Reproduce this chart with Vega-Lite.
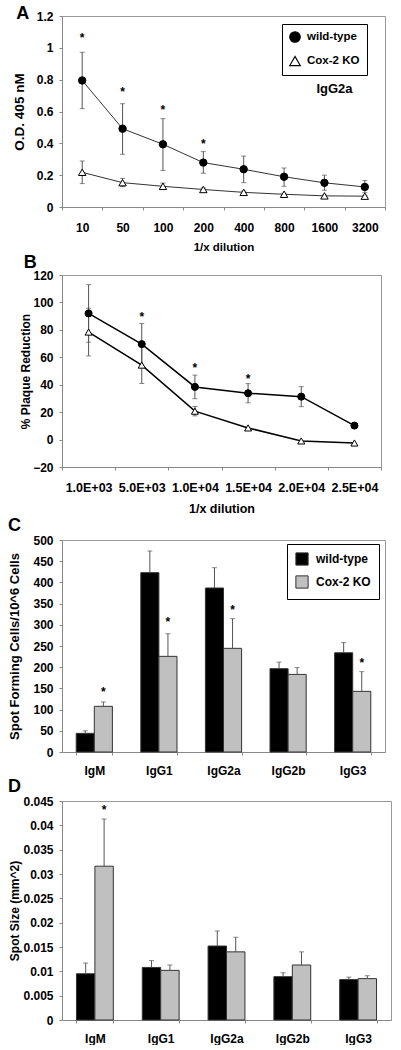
{
  "$schema": "https://vega.github.io/schema/vega-lite/v6.json",
  "padding": {"left": 7, "top": 4, "right": 0, "bottom": 0},
  "spacing": 0,
  "config": {
    "font": "Liberation Sans",
    "view": {"stroke": "#999", "strokeWidth": 1},
    "axis": {"labelFont": "Liberation Sans", "labelFontWeight": "bold", "labelFontSize": 12, "labelColor": "black", "titleFont": "Liberation Sans", "titleFontWeight": "bold", "titleFontSize": 12, "titleColor": "black", "domainColor": "#888", "tickColor": "#888", "tickSize": 3, "grid": false},
    "legend": {"labelFont": "Liberation Sans", "labelFontWeight": "bold", "labelFontSize": 12, "labelColor": "black"}
  },
  "resolve": {"scale": {"x": "independent", "y": "independent", "fill": "independent", "shape": "independent", "stroke": "independent", "xOffset": "independent"}, "legend": {"fill": "independent", "shape": "independent", "stroke": "independent"}},
  "datasets": {
    "a": [
      {"dil": "10", "group": "wild-type", "value": 0.795, "lo": 0.618, "hi": 0.972, "star": 1.08},
      {"dil": "50", "group": "wild-type", "value": 0.492, "lo": 0.331, "hi": 0.649, "star": 0.739},
      {"dil": "100", "group": "wild-type", "value": 0.394, "lo": 0.23, "hi": 0.555, "star": 0.628},
      {"dil": "200", "group": "wild-type", "value": 0.279, "lo": 0.212, "hi": 0.348, "star": 0.415},
      {"dil": "400", "group": "wild-type", "value": 0.237, "lo": 0.153, "hi": 0.32},
      {"dil": "800", "group": "wild-type", "value": 0.19, "lo": 0.13, "hi": 0.245},
      {"dil": "1600", "group": "wild-type", "value": 0.152, "lo": 0.105, "hi": 0.2},
      {"dil": "3200", "group": "wild-type", "value": 0.126, "lo": 0.09, "hi": 0.166},
      {"dil": "10", "group": "Cox-2 KO", "value": 0.218, "lo": 0.147, "hi": 0.289},
      {"dil": "50", "group": "Cox-2 KO", "value": 0.153, "lo": 0.128, "hi": 0.18},
      {"dil": "100", "group": "Cox-2 KO", "value": 0.13, "lo": 0.11, "hi": 0.15},
      {"dil": "200", "group": "Cox-2 KO", "value": 0.11, "lo": 0.1, "hi": 0.12},
      {"dil": "400", "group": "Cox-2 KO", "value": 0.092, "lo": 0.084, "hi": 0.1},
      {"dil": "800", "group": "Cox-2 KO", "value": 0.08, "lo": 0.074, "hi": 0.086},
      {"dil": "1600", "group": "Cox-2 KO", "value": 0.07, "lo": 0.065, "hi": 0.075},
      {"dil": "3200", "group": "Cox-2 KO", "value": 0.068, "lo": 0.063, "hi": 0.073}
    ],
    "b": [
      {"dil": "1.0E+03", "group": "wild-type", "value": 92, "lo": 71, "hi": 113},
      {"dil": "5.0E+03", "group": "wild-type", "value": 69.6, "lo": 54.6, "hi": 84.6, "star": 91.3},
      {"dil": "1.0E+04", "group": "wild-type", "value": 38.4, "lo": 29.8, "hi": 47, "star": 54.7},
      {"dil": "1.5E+04", "group": "wild-type", "value": 33.8, "lo": 26.8, "hi": 40.8, "star": 46.2},
      {"dil": "2.0E+04", "group": "wild-type", "value": 31.3, "lo": 24, "hi": 38.6},
      {"dil": "2.5E+04", "group": "wild-type", "value": 10.2},
      {"dil": "1.0E+03", "group": "Cox-2 KO", "value": 78.4, "lo": 61, "hi": 95.8},
      {"dil": "5.0E+03", "group": "Cox-2 KO", "value": 54.3, "lo": 40.9, "hi": 67.7},
      {"dil": "1.0E+04", "group": "Cox-2 KO", "value": 20.7, "lo": 17.3, "hi": 24.1},
      {"dil": "1.5E+04", "group": "Cox-2 KO", "value": 8.5},
      {"dil": "2.0E+04", "group": "Cox-2 KO", "value": -1},
      {"dil": "2.5E+04", "group": "Cox-2 KO", "value": -2.5}
    ],
    "c": [
      {"iso": "IgM", "group": "wild-type", "value": 44, "hi": 50},
      {"iso": "IgM", "group": "Cox-2 KO", "value": 107.7, "hi": 118, "star": 148},
      {"iso": "IgG1", "group": "wild-type", "value": 423, "hi": 474},
      {"iso": "IgG1", "group": "Cox-2 KO", "value": 225.6, "hi": 279, "star": 314},
      {"iso": "IgG2a", "group": "wild-type", "value": 386.8, "hi": 434.7},
      {"iso": "IgG2a", "group": "Cox-2 KO", "value": 244.5, "hi": 314.5, "star": 343},
      {"iso": "IgG2b", "group": "wild-type", "value": 196.5, "hi": 212},
      {"iso": "IgG2b", "group": "Cox-2 KO", "value": 183, "hi": 199},
      {"iso": "IgG3", "group": "wild-type", "value": 234, "hi": 258},
      {"iso": "IgG3", "group": "Cox-2 KO", "value": 143, "hi": 189.5, "star": 217}
    ],
    "d": [
      {"iso": "IgM", "group": "wild-type", "value": 0.0095, "hi": 0.0117},
      {"iso": "IgM", "group": "Cox-2 KO", "value": 0.0316, "hi": 0.0413, "star": 0.0438},
      {"iso": "IgG1", "group": "wild-type", "value": 0.0108, "hi": 0.0122},
      {"iso": "IgG1", "group": "Cox-2 KO", "value": 0.0102, "hi": 0.0113},
      {"iso": "IgG2a", "group": "wild-type", "value": 0.0152, "hi": 0.0183},
      {"iso": "IgG2a", "group": "Cox-2 KO", "value": 0.014, "hi": 0.017},
      {"iso": "IgG2b", "group": "wild-type", "value": 0.0089, "hi": 0.0097},
      {"iso": "IgG2b", "group": "Cox-2 KO", "value": 0.0113, "hi": 0.014},
      {"iso": "IgG3", "group": "wild-type", "value": 0.0083, "hi": 0.0088},
      {"iso": "IgG3", "group": "Cox-2 KO", "value": 0.0085, "hi": 0.0091}
    ]
  },
  "vconcat": [
    {
      "title": {"text": "A", "anchor": "start", "frame": "bounds", "fontSize": 18, "fontWeight": "bold", "offset": -27, "dx": 4, "baseline": "alphabetic"},
      "width": 323,
      "height": 191,
      "data": {"name": "a"},
      "encoding": {
        "x": {"field": "dil", "type": "ordinal", "sort": ["10", "50", "100", "200", "400", "800", "1600", "3200"], "scale": {"type": "band", "paddingInner": 0, "paddingOuter": 0}, "axis": {"labelAngle": 0, "tickBand": "extent", "labelPadding": 12, "titlePadding": 8, "titleFontSize": 11.5}, "title": "1/x dilution"},
        "y": {"field": "value", "type": "quantitative", "scale": {"domain": [0, 1.2], "nice": false}, "axis": {"values": [0, 0.2, 0.4, 0.6, 0.8, 1, 1.2], "format": "~g", "labelPadding": 6, "titlePadding": 10, "titleFontSize": 13.5}, "title": "O.D. 405 nM"}
      },
      "layer": [
        {"transform": [{"filter": "isValid(datum.hi)"}], "mark": {"type": "rule", "color": "#555", "strokeWidth": 1}, "encoding": {"y": {"field": "lo", "type": "quantitative", "title": "O.D. 405 nM"}, "y2": {"field": "hi"}}},
        {"transform": [{"filter": "isValid(datum.hi)"}], "mark": {"type": "tick", "orient": "horizontal", "size": 5, "thickness": 1, "color": "#555"}, "encoding": {"y": {"field": "hi", "type": "quantitative", "title": "O.D. 405 nM"}}},
        {"transform": [{"filter": "isValid(datum.lo)"}], "mark": {"type": "tick", "orient": "horizontal", "size": 5, "thickness": 1, "color": "#555"}, "encoding": {"y": {"field": "lo", "type": "quantitative", "title": "O.D. 405 nM"}}},
        {"mark": {"type": "line", "color": "#333", "strokeWidth": 1}, "encoding": {"detail": {"field": "group"}}},
        {"mark": {"type": "point", "filled": true, "strokeWidth": 1, "size": 55, "opacity": 1},
         "encoding": {
           "shape": {"field": "group", "type": "nominal", "scale": {"domain": ["wild-type", "Cox-2 KO"], "range": ["circle", "triangle-up"]}, "legend": {"title": null, "orient": "none", "legendX": 220, "legendY": 8, "padding": 7, "rowPadding": 9, "symbolSize": 110, "symbolStrokeWidth": 1.2, "strokeColor": "black", "labelOffset": 6, "labelFontSize": 11.5}},
           "fill": {"field": "group", "type": "nominal", "scale": {"domain": ["wild-type", "Cox-2 KO"], "range": ["black", "white"]}, "legend": {"title": null, "orient": "none", "legendX": 220, "legendY": 8, "padding": 7, "rowPadding": 9, "symbolSize": 110, "symbolStrokeWidth": 1.2, "strokeColor": "black", "labelOffset": 6, "labelFontSize": 11.5}},
           "stroke": {"field": "group", "type": "nominal", "scale": {"domain": ["wild-type", "Cox-2 KO"], "range": ["black", "black"]}, "legend": {"title": null, "orient": "none", "legendX": 220, "legendY": 8, "padding": 7, "rowPadding": 9, "symbolSize": 110, "symbolStrokeWidth": 1.2, "strokeColor": "black", "labelOffset": 6, "labelFontSize": 11.5}}
         }},
        {"transform": [{"filter": "isValid(datum.star)"}], "mark": {"type": "text", "text": "*", "fontSize": 12, "fontWeight": "bold", "baseline": "middle", "dy": 3}, "encoding": {"y": {"field": "star", "type": "quantitative", "title": "O.D. 405 nM"}}},
        {"data": {"values": [{"dil": "1600", "label": "IgG2a", "v": 0.74}]}, "mark": {"type": "text", "dx": 10, "fontSize": 13, "fontWeight": "bold", "baseline": "middle"}, "encoding": {"y": {"field": "v", "type": "quantitative", "title": "O.D. 405 nM"}, "text": {"field": "label"}}}
      ]
    },
    {
      "title": {"text": "B", "anchor": "start", "frame": "bounds", "fontSize": 18, "fontWeight": "bold", "offset": -17, "dx": 4, "baseline": "alphabetic"},
      "width": 319,
      "height": 192,
      "data": {"name": "b"},
      "encoding": {
        "x": {"field": "dil", "type": "ordinal", "sort": ["1.0E+03", "5.0E+03", "1.0E+04", "1.5E+04", "2.0E+04", "2.5E+04"], "scale": {"type": "band", "paddingInner": 0, "paddingOuter": 0}, "axis": {"labelAngle": 0, "tickBand": "extent", "labelPadding": 11, "titlePadding": 9, "titleFontSize": 12.5, "labelFontSize": 12.5}, "title": "1/x dilution"},
        "y": {"field": "value", "type": "quantitative", "scale": {"domain": [-20, 120], "nice": false}, "axis": {"values": [-20, 0, 20, 40, 60, 80, 100, 120], "labelPadding": 6, "titlePadding": 0}, "title": "% Plaque Reduction"}
      },
      "layer": [
        {"transform": [{"filter": "isValid(datum.hi)"}], "mark": {"type": "rule", "color": "#555", "strokeWidth": 1}, "encoding": {"y": {"field": "lo", "type": "quantitative", "title": "% Plaque Reduction"}, "y2": {"field": "hi"}}},
        {"transform": [{"filter": "isValid(datum.hi)"}], "mark": {"type": "tick", "orient": "horizontal", "size": 5, "thickness": 1, "color": "#555"}, "encoding": {"y": {"field": "hi", "type": "quantitative", "title": "% Plaque Reduction"}}},
        {"transform": [{"filter": "isValid(datum.lo)"}], "mark": {"type": "tick", "orient": "horizontal", "size": 5, "thickness": 1, "color": "#555"}, "encoding": {"y": {"field": "lo", "type": "quantitative", "title": "% Plaque Reduction"}}},
        {"mark": {"type": "line", "color": "black", "strokeWidth": 1.5}, "encoding": {"detail": {"field": "group"}}},
        {"mark": {"type": "point", "filled": true, "stroke": "black", "strokeWidth": 1, "size": 50, "opacity": 1},
         "encoding": {
           "shape": {"field": "group", "type": "nominal", "scale": {"domain": ["wild-type", "Cox-2 KO"], "range": ["circle", "triangle-up"]}, "legend": null},
           "fill": {"field": "group", "type": "nominal", "scale": {"domain": ["wild-type", "Cox-2 KO"], "range": ["black", "white"]}, "legend": null}
         }},
        {"transform": [{"filter": "isValid(datum.star)"}], "mark": {"type": "text", "text": "*", "fontSize": 12, "fontWeight": "bold", "baseline": "middle", "dy": 3}, "encoding": {"y": {"field": "star", "type": "quantitative", "title": "% Plaque Reduction"}}}
      ]
    },
    {
      "title": {"text": "C", "anchor": "start", "frame": "bounds", "fontSize": 18, "fontWeight": "bold", "offset": -15, "dx": -1, "baseline": "alphabetic"},
      "width": 323,
      "height": 212,
      "data": {"name": "c"},
      "encoding": {
        "x": {"field": "iso", "type": "nominal", "sort": ["IgM", "IgG1", "IgG2a", "IgG2b", "IgG3"], "scale": {"paddingInner": 0.44, "paddingOuter": 0.22}, "axis": {"labelAngle": 0, "tickBand": "extent", "labelPadding": 10}, "title": null},
        "xOffset": {"field": "group", "type": "nominal", "sort": ["wild-type", "Cox-2 KO"], "scale": {"paddingInner": 0, "paddingOuter": 0}},
        "y": {"field": "value", "type": "quantitative", "scale": {"domain": [0, 500], "nice": false}, "axis": {"values": [0, 50, 100, 150, 200, 250, 300, 350, 400, 450, 500], "labelPadding": 6, "titlePadding": 11, "titleFontSize": 13}, "title": "Spot Forming Cells/10^6 Cells"}
      },
      "layer": [
        {"mark": {"type": "bar", "stroke": "#333", "strokeWidth": 1},
         "encoding": {"fill": {"field": "group", "type": "nominal", "scale": {"domain": ["wild-type", "Cox-2 KO"], "range": ["black", "#c0c0c0"]}, "legend": {"title": null, "orient": "none", "legendX": 225, "legendY": 4, "padding": 8, "rowPadding": 5, "symbolType": "square", "symbolSize": 150, "symbolStrokeColor": "#333", "symbolStrokeWidth": 1, "strokeColor": "black", "labelOffset": 7}}}},
        {"mark": {"type": "rule", "color": "#555", "strokeWidth": 1}, "encoding": {"y2": {"field": "hi"}}},
        {"mark": {"type": "tick", "orient": "horizontal", "size": 5, "thickness": 1, "color": "#555"}, "encoding": {"y": {"field": "hi", "type": "quantitative", "title": "Spot Forming Cells/10^6 Cells"}}},
        {"transform": [{"filter": "isValid(datum.star)"}], "mark": {"type": "text", "text": "*", "fontSize": 12, "fontWeight": "bold", "baseline": "middle", "dy": 3}, "encoding": {"y": {"field": "star", "type": "quantitative", "title": "Spot Forming Cells/10^6 Cells"}}}
      ]
    },
    {
      "title": {"text": "D", "anchor": "start", "frame": "bounds", "fontSize": 18, "fontWeight": "bold", "offset": -15, "dx": -1, "baseline": "alphabetic"},
      "width": 329,
      "height": 219,
      "data": {"name": "d"},
      "encoding": {
        "x": {"field": "iso", "type": "nominal", "sort": ["IgM", "IgG1", "IgG2a", "IgG2b", "IgG3"], "scale": {"paddingInner": 0.44, "paddingOuter": 0.22}, "axis": {"labelAngle": 0, "tickBand": "extent", "labelPadding": 10}, "title": null},
        "xOffset": {"field": "group", "type": "nominal", "sort": ["wild-type", "Cox-2 KO"], "scale": {"paddingInner": 0, "paddingOuter": 0}},
        "y": {"field": "value", "type": "quantitative", "scale": {"domain": [0, 0.045], "nice": false}, "axis": {"values": [0, 0.005, 0.01, 0.015, 0.02, 0.025, 0.03, 0.035, 0.04, 0.045], "format": "~g", "labelPadding": 6, "titlePadding": 1}, "title": "Spot Size (mm^2)"}
      },
      "layer": [
        {"mark": {"type": "bar", "stroke": "#333", "strokeWidth": 1},
         "encoding": {"fill": {"field": "group", "type": "nominal", "scale": {"domain": ["wild-type", "Cox-2 KO"], "range": ["black", "#c0c0c0"]}, "legend": null}}},
        {"mark": {"type": "rule", "color": "#555", "strokeWidth": 1}, "encoding": {"y2": {"field": "hi"}}},
        {"mark": {"type": "tick", "orient": "horizontal", "size": 5, "thickness": 1, "color": "#555"}, "encoding": {"y": {"field": "hi", "type": "quantitative", "title": "Spot Size (mm^2)"}}},
        {"transform": [{"filter": "isValid(datum.star)"}], "mark": {"type": "text", "text": "*", "fontSize": 12, "fontWeight": "bold", "baseline": "middle", "dy": 3}, "encoding": {"y": {"field": "star", "type": "quantitative", "title": "Spot Size (mm^2)"}}}
      ]
    }
  ]
}
